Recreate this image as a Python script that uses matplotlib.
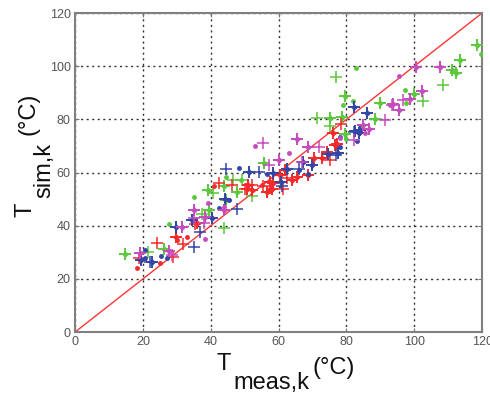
import matplotlib
matplotlib.use('Agg')
import matplotlib.pyplot as plt

plt.rcParams['font.family'] = ['Liberation Sans', 'DejaVu Sans']

# green
g_plus_x = [76.9, 102.5, 108.4, 71.3, 75.2, 46.7, 49.2, 40.8, 37.4, 44.0, 52.1, 21.5]
g_plus_y = [95.8, 87.0, 93.1, 80.5, 77.5, 57.1, 57.1, 52.5, 44.3, 39.0, 51.1, 30.3]
g_star_x = [79.5, 90.0, 113.5, 111.2, 112.2, 118.4, 99.8, 88.3, 75.2, 78.8, 79.7, 55.6, 39.1, 44.0, 47.8, 44.5, 39.5, 14.6, 26.3]
g_star_y = [88.7, 86.0, 102.5, 98.5, 97.6, 108.0, 89.6, 80.3, 80.7, 80.9, 74.4, 63.6, 53.6, 54.9, 52.8, 49.8, 45.9, 29.2, 31.4]
g_dot_x = [82.9, 81.8, 79.0, 97.3, 97.5, 119.8, 84.0, 80.0, 44.6, 49.0, 35.0, 27.6]
g_dot_y = [99.5, 87.0, 85.3, 91.2, 86.0, 104.5, 77.0, 72.8, 58.5, 57.3, 51.0, 40.8]

# red
r_plus_x = [78.4, 75.2, 62.5, 61.4, 50.1, 52.1, 55.3, 42.3, 46.2, 35.3, 24.1, 31.9, 19.0, 29.0]
r_plus_y = [78.2, 64.7, 57.8, 54.0, 54.0, 55.5, 54.9, 56.0, 55.3, 40.6, 33.5, 33.3, 27.7, 28.4]
r_star_x = [76.0, 77.2, 76.5, 74.2, 72.8, 70.3, 68.8, 65.4, 62.0, 60.5, 63.9, 57.5, 58.5, 58.0, 51.1, 52.1, 56.5, 50.6, 35.9, 29.9]
r_star_y = [75.0, 70.9, 70.3, 67.8, 65.6, 65.3, 59.0, 58.5, 60.9, 59.0, 57.1, 56.5, 56.2, 54.0, 55.3, 53.4, 52.8, 54.0, 40.9, 35.9]
r_dot_x = [18.4, 25.1, 32.9, 41.0, 55.1, 57.5, 30.0]
r_dot_y = [24.3, 26.1, 35.9, 54.8, 55.3, 53.2, 34.5]

# blue
b_plus_x = [82.3, 77.0, 65.9, 54.1, 44.4, 60.9, 47.8, 36.9, 35.1, 29.8, 22.1]
b_plus_y = [75.3, 66.5, 61.5, 60.2, 61.2, 55.0, 46.2, 37.7, 32.1, 39.4, 26.4]
b_star_x = [82.1, 86.0, 84.0, 82.6, 83.6, 77.5, 74.7, 67.3, 69.8, 51.3, 58.5, 62.4, 60.7, 44.3, 40.3, 34.6, 29.7, 19.6, 22.6]
b_star_y = [84.5, 82.5, 75.9, 75.6, 74.7, 67.5, 66.8, 64.1, 62.8, 60.3, 59.8, 61.2, 56.5, 50.0, 42.8, 42.0, 39.5, 27.1, 26.4]
b_dot_x = [78.2, 78.2, 48.3, 56.7, 68.8, 66.0, 42.3, 20.6, 20.6, 25.3, 27.0, 83.0, 45.5]
b_dot_y = [73.4, 69.7, 61.9, 59.6, 59.6, 61.0, 46.8, 30.8, 27.7, 28.6, 27.7, 72.0, 49.5]

# magenta
m_plus_x = [96.8, 93.4, 91.4, 82.1, 71.8, 55.4, 66.9, 57.3, 28.5, 35.2, 38.0]
m_plus_y = [87.2, 85.3, 79.7, 72.2, 69.5, 71.3, 64.1, 63.0, 28.9, 43.0, 41.0]
m_star_x = [100.6, 107.7, 102.2, 98.8, 95.5, 93.6, 86.7, 65.4, 68.6, 60.0, 44.0, 35.0, 38.3, 31.5, 19.2, 27.6, 85.0]
m_star_y = [99.6, 99.7, 90.7, 87.8, 83.5, 85.7, 76.5, 72.6, 69.6, 64.7, 45.9, 45.9, 43.4, 39.7, 29.6, 30.5, 78.0]
m_dot_x = [95.4, 92.9, 85.6, 53.1, 63.0, 39.1, 38.3, 44.0, 78.0]
m_dot_y = [96.3, 85.3, 74.7, 70.1, 67.3, 48.6, 35.2, 47.0, 73.0]

green = '#5cc83c'
red = '#f52a2a'
blue = '#3346a6'
magenta = '#c64cbe'

W, H = 490, 394
fig = plt.figure(figsize=(W / 100, H / 100), dpi=100)
ax = fig.add_axes([0.153, 0.157, 0.831, 0.81])

ax.plot([0, 120], [0, 120], color='#ff3535', lw=1.0, zorder=1)

series = [
    (green, g_plus_x, g_plus_y, g_star_x, g_star_y, g_dot_x, g_dot_y),
    (red, r_plus_x, r_plus_y, r_star_x, r_star_y, r_dot_x, r_dot_y),
    (blue, b_plus_x, b_plus_y, b_star_x, b_star_y, b_dot_x, b_dot_y),
    (magenta, m_plus_x, m_plus_y, m_star_x, m_star_y, m_dot_x, m_dot_y),
]
for c, px, py, sx, sy, dx, dy in series:
    ax.plot(px, py, '+', color=c, ms=8, mew=1.1, zorder=3)
    # matlab-like '*' : plus with a bold centre
    ax.plot(sx, sy, '+', color=c, ms=8, mew=1.4, zorder=3)
    ax.plot(sx, sy, 'D', color=c, ms=3.5, mew=0, zorder=3)
    ax.plot(dx, dy, '.', color=c, ms=5, zorder=3)

ax.set_xlim(0, 120)
ax.set_ylim(0, 120)
ax.set_xticks([0, 20, 40, 60, 80, 100, 120])
ax.set_yticks([0, 20, 40, 60, 80, 100, 120])
ax.grid(True, color='#333333', ls=(0, (1.5, 2.5)), lw=1.0)
ax.set_axisbelow(True)
ax.tick_params(direction='in', length=3, colors='#777777', labelcolor='#555555',
               labelsize=9, top=True, right=True, pad=3)
for s in ax.spines.values():
    s.set_color('#808080')
    s.set_linewidth(1.5)


def px(x, y):
    return x / W, 1 - y / H


lab = dict(fontsize=17, color='#111111', va='baseline', ha='left')
# x label: T, subscript, superscript as matlab draws them
fig.text(*px(216, 370), 'T', **lab)
fig.text(*px(233, 389), 'meas,k', **lab)
fig.text(*px(312, 374), '(°C)', **lab)
# y label, rotated
rot = dict(rotation=90, rotation_mode='anchor')
fig.text(*px(31, 217), 'T', **lab, **rot)
fig.text(*px(50, 198), 'sim,k', **lab, **rot)
fig.text(*px(34, 135), '(°C)', **lab, **rot)

fig.savefig('out.png', dpi=100)
